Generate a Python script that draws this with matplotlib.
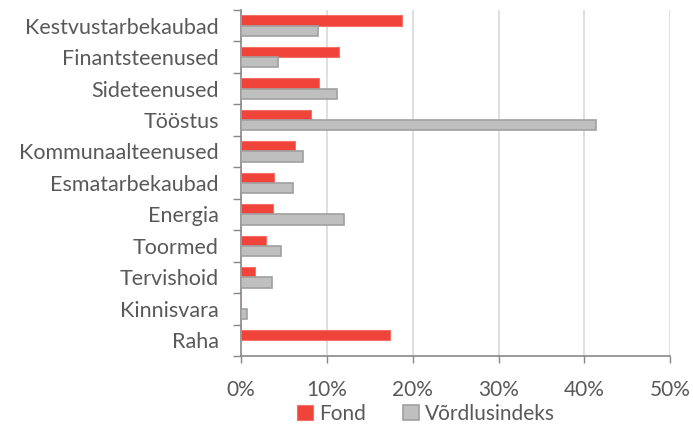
import matplotlib
matplotlib.use("Agg")
import matplotlib.pyplot as plt
import numpy as np
from matplotlib.ticker import FuncFormatter

categories = ["Kestvustarbekaubad", "Finantsteenused", "Sideteenused", "Tööstus",
              "Kommunaalteenused", "Esmatarbekaubad", "Energia", "Toormed",
              "Tervishoid", "Kinnisvara", "Raha"]
fond = [18.7, 11.4, 9.1, 8.1, 6.3, 3.8, 3.7, 2.9, 1.6, 0.0, 17.4]
vordlus = [9.0, 4.3, 11.2, 41.4, 7.2, 6.1, 12.0, 4.6, 3.6, 0.7, 0.0]
xticks = [0, 10, 20, 30, 40, 50]

plt.rcParams['font.family'] = ['Lato', 'DejaVu Sans']
txt = '#595959'

fig = plt.figure(figsize=(6.93, 4.28), dpi=100)
ax = fig.add_axes([0.348, 0.168, 0.619, 0.809])

n = len(categories)
y = np.arange(n)[::-1].astype(float)
h = 0.33
ax.barh(y + h / 2, fond, height=h, color='#f0433a', edgecolor='#f47068', linewidth=0.8,
        label='Fond', zorder=3)
ax.barh(y - h / 2, vordlus, height=h, color='#bfbfbf', edgecolor='#a0a0a0', linewidth=1.2,
        label='Võrdlusindeks', zorder=3)

ax.set_ylim(-0.5, n - 0.5)
ax.set_xlim(0, 50)
ax.set_yticks(y)
ax.set_yticklabels(categories)
ax.set_yticks(np.arange(-0.5, n, 1.0), minor=True)
ax.tick_params(axis='y', which='major', length=0, labelsize=15.5, labelcolor=txt, pad=16)
ax.tick_params(axis='y', which='minor', length=6, color='#888888', width=1)
ax.set_xticks(xticks)
ax.xaxis.set_major_formatter(FuncFormatter(lambda v, p: f"{int(v)}%"))
ax.tick_params(axis='x', length=5, color='#888888', width=1, labelsize=15, labelcolor=txt, pad=12)
ax.grid(axis='x', color='#d9d9d9', linewidth=1.2, zorder=0)
for s in ['top', 'right']:
    ax.spines[s].set_visible(False)
for s in ['left', 'bottom']:
    ax.spines[s].set_color('#888888')
    ax.spines[s].set_linewidth(1.2)

leg = fig.legend(loc='lower center', bbox_to_anchor=(0.615, 0.005), ncol=2, frameon=False,
                 fontsize=15, handlelength=0.75, handleheight=0.75, handletextpad=0.3,
                 columnspacing=1.8, borderpad=0.1, borderaxespad=0.0)
for t in leg.get_texts():
    t.set_color(txt)

fig.savefig("out.png", dpi=100)
